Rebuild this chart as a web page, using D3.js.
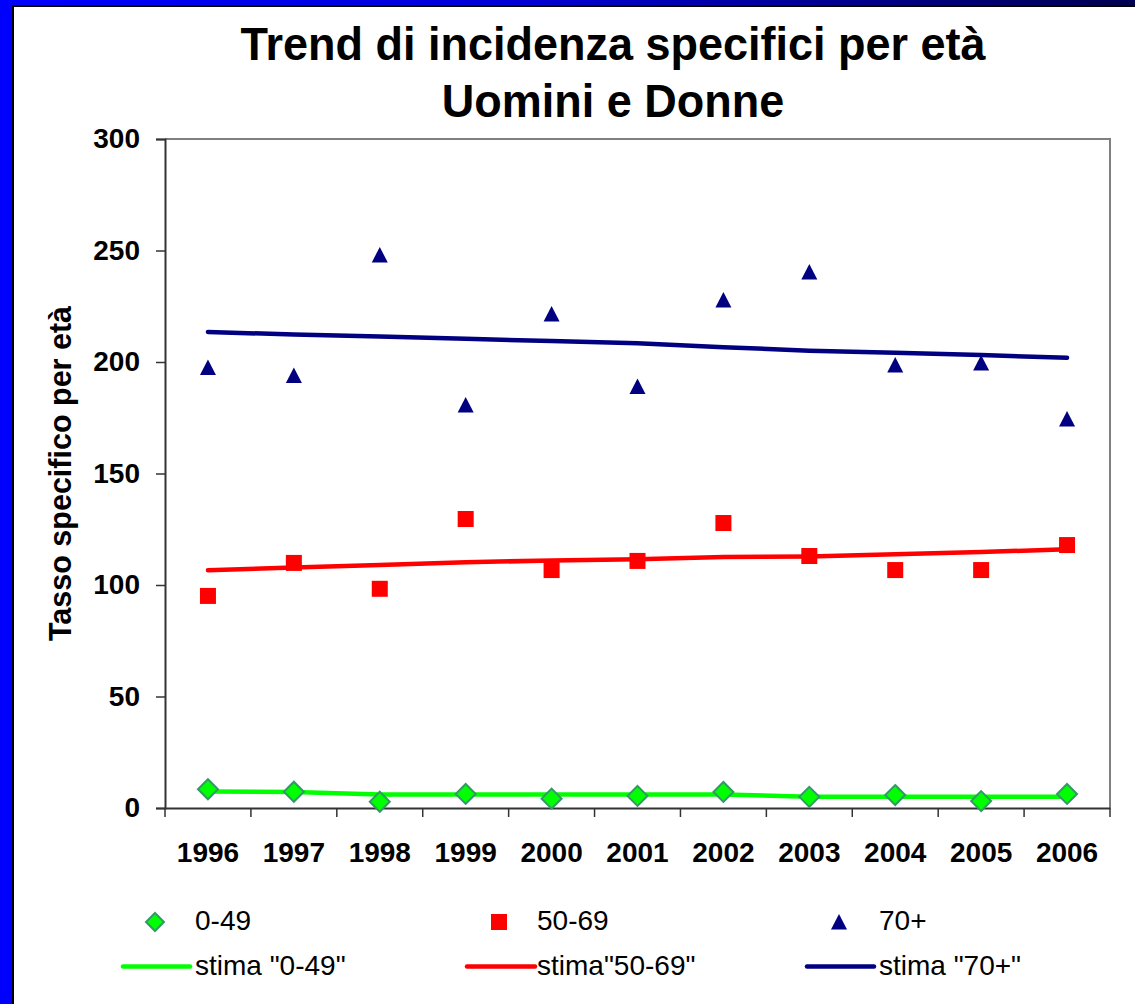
<!DOCTYPE html>
<html>
<head>
<meta charset="utf-8">
<script src="https://cdn.jsdelivr.net/npm/d3@7/dist/d3.min.js"></script>
<style>
  html, body { margin: 0; padding: 0; background: #ffffff; }
  svg { display: block; }
  text { font-family: "Liberation Sans", Arial, sans-serif; }
</style>
</head>
<body>
<svg id="chart" width="1135" height="1004"></svg>
<script>
const years = ["1996","1997","1998","1999","2000","2001","2002","2003","2004","2005","2006"];
const yTicks = [0, 50, 100, 150, 200, 250, 300];
const v049  = [8.4, 7.3, 2.8, 6.3, 4.2, 5.4, 7.2, 5.0, 5.8, 3.1, 6.3];
const v5069 = [95.1, 109.9, 98.3, 129.6, 106.7, 110.8, 127.8, 113.0, 106.7, 106.7, 117.9];
const v70   = [197.5, 194.0, 248.0, 180.7, 221.5, 189.0, 227.8, 240.4, 198.7, 199.6, 174.4];
const t049  = [7.4, 7.2, 6.1, 6.0, 6.0, 6.0, 6.0, 5.1, 5.1, 5.0, 5.0];
const t5069 = [106.6, 107.8, 109.0, 110.2, 111.0, 111.6, 112.6, 112.8, 113.8, 114.8, 116.0];
const t70   = [213.5, 212.3, 211.4, 210.4, 209.4, 208.4, 206.6, 205.1, 204.1, 203.1, 201.9];
const titleLines = ["Trend di incidenza specifici per età", "Uomini e Donne"];
const yTitle = "Tasso specifico per età";
const legendItems = [
  {label: "0-49", kind: "diamond", trend: "stima \"0-49\""},
  {label: "50-69", kind: "square", trend: "stima\"50-69\""},
  {label: "70+", kind: "triangle", trend: "stima \"70+\""}
];

const svg = d3.select("#chart");

// Frame (slide background)
const defs = svg.append("defs");
const grad = defs.append("linearGradient").attr("id", "topbar").attr("x1", "0").attr("x2", "1");
grad.append("stop").attr("offset", "0").attr("stop-color", "#0000ff");
grad.append("stop").attr("offset", "0.45").attr("stop-color", "#0000d8");
grad.append("stop").attr("offset", "1").attr("stop-color", "#000050");
svg.append("rect").attr("x", 0).attr("y", 0).attr("width", 1135).attr("height", 1004).attr("fill", "#0000ff");
svg.append("rect").attr("x", 0).attr("y", 0).attr("width", 1135).attr("height", 6).attr("fill", "url(#topbar)");
svg.append("rect").attr("x", 12).attr("y", 5).attr("width", 1123).attr("height", 999).attr("fill", "#000000");
svg.append("rect").attr("x", 14).attr("y", 7).attr("width", 1121).attr("height", 997).attr("fill", "#ffffff");

const L = 165, R = 1110, T = 139, B = 808;
const x = d3.scaleBand().domain(years).range([L, R]);
const y = d3.scaleLinear().domain([0, 300]).range([B, T]);
const cx = d => x(d) + x.bandwidth() / 2;

// Title
svg.append("g").selectAll("text").data(titleLines).join("text")
  .attr("transform", (d, i) => `translate(613,${60 + i * 57}) scale(1,1.03)`)
  .attr("text-anchor", "middle")
  .attr("font-size", 45).attr("font-weight", "bold").attr("fill", "#000")
  .text(d => d);

// Plot border (top/right)
svg.append("path")
  .attr("d", `M${L},${T}H${R}V${B}`)
  .attr("fill", "none").attr("stroke", "#808080").attr("stroke-width", 2);

// Y axis
const yAxis = svg.append("g").attr("transform", `translate(${L},0)`)
  .call(d3.axisLeft(y).tickValues(yTicks).tickSize(9).tickPadding(16).tickFormat(d3.format("d")));
yAxis.select(".domain").attr("stroke", "#333").attr("stroke-width", 2);
yAxis.selectAll(".tick line").attr("stroke", "#333").attr("stroke-width", 1.5);
yAxis.selectAll(".tick text").attr("font-size", 28).attr("font-weight", "bold").attr("fill", "#000")
  .attr("font-family", "Liberation Sans, Arial, sans-serif");

// X axis
const xAxis = svg.append("g").attr("transform", `translate(0,${B})`)
  .call(d3.axisBottom(x).tickSize(0).tickPadding(34));
xAxis.select(".domain").attr("stroke", "#333").attr("stroke-width", 2);
xAxis.selectAll(".tick text").attr("font-size", 28).attr("font-weight", "bold").attr("fill", "#000")
  .attr("font-family", "Liberation Sans, Arial, sans-serif");
// boundary ticks
const bounds = years.map(d => x(d)).concat([x(years[years.length - 1]) + x.step()]);
xAxis.append("g").selectAll("line").data(bounds).join("line")
  .attr("x1", d => d).attr("x2", d => d).attr("y1", 0).attr("y2", 9)
  .attr("stroke", "#333").attr("stroke-width", 1.5);

// Y title
svg.append("text")
  .attr("transform", `translate(71,${(T + B) / 2}) rotate(-90)`)
  .attr("text-anchor", "middle")
  .attr("font-size", 30.5).attr("font-weight", "bold").attr("fill", "#000")
  .text(yTitle);

// Trend lines
const line = d3.line().x(d => cx(d.year)).y(d => y(d.v));
const mk = arr => years.map((yr, i) => ({year: yr, v: arr[i]}));
const trends = [
  {data: t049, color: "#00ff00"},
  {data: t5069, color: "#ff0000"},
  {data: t70, color: "#000080"}
];
svg.append("g").selectAll("path").data(trends).join("path")
  .attr("d", d => line(mk(d.data)))
  .attr("fill", "none").attr("stroke", d => d.color).attr("stroke-width", 4.5)
  .attr("stroke-linecap", "round").attr("stroke-linejoin", "round");

// Markers
const diamond = "M0,-10L10,0L0,10L-10,0Z";
const triangle = "M0,-8L8,7.5L-8,7.5Z";
svg.append("g").selectAll("path").data(mk(v049)).join("path")
  .attr("transform", d => `translate(${cx(d.year)},${y(d.v)})`)
  .attr("d", diamond).attr("fill", "#00ff00").attr("stroke", "#339966").attr("stroke-width", 2);
svg.append("g").selectAll("rect").data(mk(v5069)).join("rect")
  .attr("x", d => cx(d.year) - 8).attr("y", d => y(d.v) - 8)
  .attr("width", 16).attr("height", 16).attr("fill", "#ff0000");
svg.append("g").selectAll("path").data(mk(v70)).join("path")
  .attr("transform", d => `translate(${cx(d.year)},${y(d.v)})`)
  .attr("d", triangle).attr("fill", "#000080");

// Legend
const colX = [155, 499, 839];
const labX = [195, 537, 879];
const lineX = [[123, 190], [467, 535], [807, 874]];
const trendColors = ["#00ff00", "#ff0000", "#000080"];
const lg = svg.append("g");
legendItems.forEach((it, i) => {
  if (it.kind === "diamond") {
    lg.append("path").attr("transform", `translate(${colX[i]},922)`)
      .attr("d", "M0,-9L9,0L0,9L-9,0Z").attr("fill", "#00ff00").attr("stroke", "#339966").attr("stroke-width", 2);
  } else if (it.kind === "square") {
    lg.append("rect").attr("x", colX[i] - 8).attr("y", 914).attr("width", 16).attr("height", 16).attr("fill", "#ff0000");
  } else {
    lg.append("path").attr("transform", `translate(${colX[i]},922)`).attr("d", triangle).attr("fill", "#000080");
  }
  lg.append("text").attr("x", labX[i]).attr("y", 930).attr("font-size", 28).attr("fill", "#000").text(it.label);
  lg.append("line").attr("x1", lineX[i][0]).attr("x2", lineX[i][1]).attr("y1", 966.5).attr("y2", 966.5)
    .attr("stroke", trendColors[i]).attr("stroke-width", 4.5).attr("stroke-linecap", "round");
  lg.append("text").attr("x", labX[i]).attr("y", 975).attr("font-size", 28).attr("fill", "#000").text(it.trend);
});
</script>
</body>
</html>
